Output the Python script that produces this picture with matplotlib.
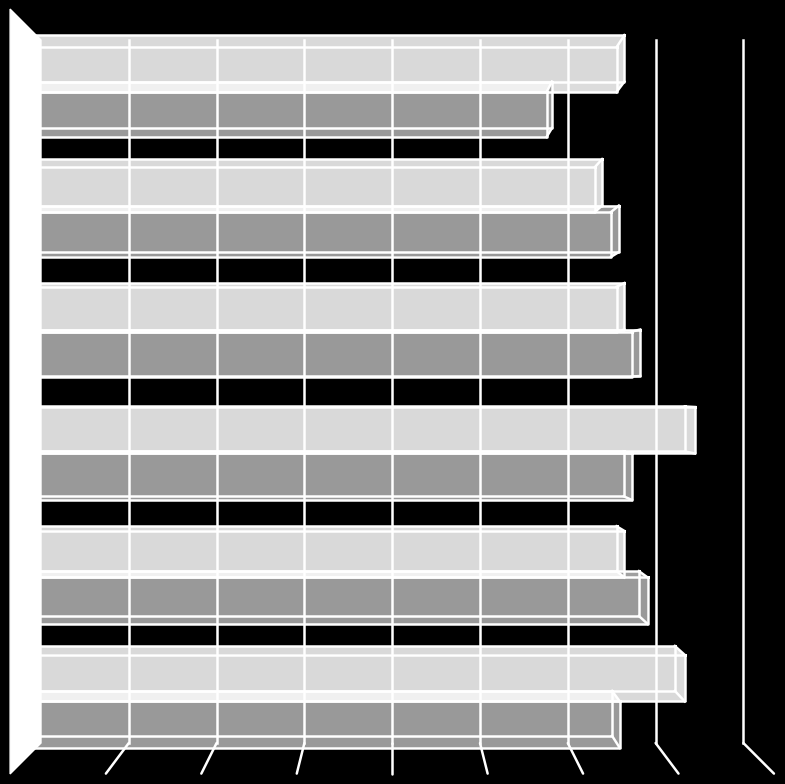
import matplotlib
matplotlib.use("Agg")
import matplotlib.pyplot as plt
from matplotlib.patches import Polygon

# Values (top group first); the chart shows no text labels
light_values = [6.50, 6.26, 6.50, 7.26, 6.50, 7.15]
dark_values = [5.72, 6.44, 6.67, 6.58, 6.75, 6.45]
axis_ticks = [1, 2, 3, 4, 5, 6, 7, 8]
n_groups = len(light_values)

# Pseudo-3D view: a point moves away from the view centre as it nears the viewer
VC, CC = axis_ticks[-1] / 2, n_groups / 2
S_REAR, S_FRONT, S_FLOOR, S_WALL = 1.022, 1.058, 1.087, 1.088
GAP = 0.125

WHITE = "#ffffff"
LW = 1.8


def proj(v, c, s):
    return (VC + s * (v - VC), CC + s * (c - CC))


fig = plt.figure(figsize=(7.85, 7.84), dpi=100, facecolor="black")
ax = fig.add_axes([0, 0, 1, 1])
ax.set_facecolor("black")
ax.set_xlim(-41 / 87.8, (785 - 41) / 87.8)
ax.set_ylim((784 - 40) / 117.17, -40 / 117.17)
ax.axis("off")


def poly(points, color, z, edge="none", lw=0):
    ax.add_patch(Polygon(points, closed=True, facecolor=color, edgecolor=edge, linewidth=lw, zorder=z))


def box_faces(v, c0, c1, front_col, side_col, top_col, bot_col, z):
    r = [proj(0, c0, S_REAR), proj(v, c0, S_REAR), proj(v, c1, S_REAR), proj(0, c1, S_REAR)]
    f = [proj(0, c0, S_FRONT), proj(v, c0, S_FRONT), proj(v, c1, S_FRONT), proj(0, c1, S_FRONT)]
    poly([r[0], r[1], f[1], f[0]], top_col, z)
    poly([r[3], r[2], f[2], f[3]], bot_col, z)
    poly([r[1], r[2], f[2], f[1]], side_col, z)
    poly(f, front_col, z + 0.1)


def box_edges(v, c0, c1, z):
    r = [proj(v, c0, S_REAR), proj(v, c1, S_REAR), proj(0, c1, S_REAR), proj(0, c0, S_REAR)]
    f = [proj(v, c0, S_FRONT), proj(v, c1, S_FRONT), proj(0, c1, S_FRONT), proj(0, c0, S_FRONT)]
    for pts in (r, f):
        xs, ys = zip(*(pts + [pts[0]]))
        ax.plot(xs, ys, color=WHITE, lw=LW, zorder=z, solid_joinstyle="round")
    for a, b in zip(r[:2], f[:2]):
        ax.plot([a[0], b[0]], [a[1], b[1]], color=WHITE, lw=LW, zorder=z)


thick = (1 - 2 * GAP) / 2
top_shades = ["#999999", "#808080", "#999999", "#999999", "#a0a0a0", "#999999"]
for i, (lv, dv) in enumerate(zip(light_values, dark_values)):
    c0 = i + GAP
    c1 = c0 + thick
    c2 = c1 + thick
    box_faces(lv, c0, c1, "#d9d9d9", "#e2e2e2", "#d9d9d9", "#dcdcdc", 2)
    box_faces(dv, c1, c2, "#999999", "#a6a6a6", top_shades[i], "#999999", 3)
    # where the light bar's underside overlaps the dark bar's top, the band is paler
    m = min(lv, dv)
    poly([proj(0, c1, S_REAR), proj(m, c1, S_REAR), proj(m, c1, S_FRONT), proj(0, c1, S_FRONT)],
         "#f0f0f0", 4)
    box_edges(lv, c0, c1, 5)
    box_edges(dv, c1, c2, 5)

# back-wall gridlines and their floor extensions
for t in axis_ticks:
    ax.plot([t, t], [0, n_groups], color=WHITE, lw=LW, zorder=6)
    a, b = proj(t, n_groups, 1), proj(t, n_groups, S_FLOOR)
    ax.plot([a[0], b[0]], [a[1], b[1]], color=WHITE, lw=LW, zorder=6, solid_capstyle="round")

# white side wall
poly([proj(0, 0, 1), proj(0, 0, S_WALL), proj(0, n_groups, S_WALL), proj(0, n_groups, 1)],
     WHITE, 7, edge=WHITE, lw=1.0)

fig.savefig("out.png", dpi=100, facecolor="black")
